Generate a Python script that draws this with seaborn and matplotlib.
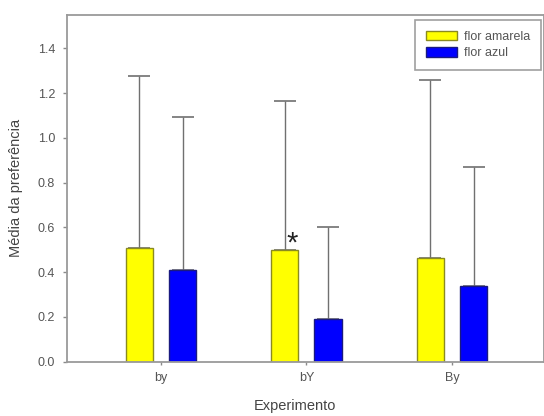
import matplotlib
matplotlib.use("Agg")
import matplotlib.pyplot as plt
import seaborn as sns
import pandas as pd
import numpy as np

categories = ["by", "bY", "By"]
series = ["flor amarela", "flor azul"]
amarela_mean = [0.51, 0.50, 0.465]
azul_mean = [0.41, 0.19, 0.34]
amarela_upper = [1.278, 1.163, 1.26]
azul_upper = [1.092, 0.60, 0.87]
yticks = [0.0, 0.2, 0.4, 0.6, 0.8, 1.0, 1.2, 1.4]

sns.set_theme(style="ticks")
plt.rcParams['font.family'] = ['Liberation Sans', 'DejaVu Sans']

df = pd.DataFrame({
    "Experimento": categories * 2,
    "serie": [series[0]] * 3 + [series[1]] * 3,
    "valor": amarela_mean + azul_mean,
})

fig = plt.figure(figsize=(5.44, 4.16), dpi=100)
ax = fig.add_axes([67/544, 1-361.7/416, 476.5/544, (361.7-15)/416])

palette = {series[0]: "#FFFF00", series[1]: "#0000FF"}
sns.barplot(data=df, x="Experimento", y="valor", hue="serie", order=categories,
            hue_order=series, palette=palette, width=0.592, gap=0.372,
            errorbar=None, ax=ax, saturation=1)

edgecols = {series[0]: "#8a8a20", series[1]: "#1a1a80"}
means = {series[0]: amarela_mean, series[1]: azul_mean}
uppers = {series[0]: amarela_upper, series[1]: azul_upper}
for cont, s in zip(ax.containers, series):
    xs = []
    for p in cont:
        p.set_edgecolor(edgecols[s])
        p.set_linewidth(1.0)
        xs.append(p.get_x() + p.get_width()/2)
    m = np.array(means[s]); u = np.array(uppers[s])
    ax.errorbar(xs, m, yerr=[np.zeros_like(m), u - m], fmt="none",
                ecolor="#707070", elinewidth=1.0, capsize=8, capthick=1.2, zorder=0.5)
    if s == series[0]:
        star_x = cont[1].get_x() + cont[1].get_width()
        star_y = means[s][1]

ax.text(star_x - 0.042, star_y - 0.01, "*", fontsize=21, ha="center", va="baseline",
        color="#222222")

ax.set_xlim(-0.646, 2.629)
ax.set_ylim(0, 1.549)
ax.set_yticks(yticks)
ax.set_yticklabels([f"{v:.1f}" for v in yticks])

for side in ["left", "bottom", "top", "right"]:
    ax.spines[side].set_visible(True)
    ax.spines[side].set_color("#9a9a9a")
    ax.spines[side].set_linewidth(1.3)

ax.tick_params(axis="y", colors="#8a8a8a", labelcolor="#555555", labelsize=9,
               length=3, width=1, pad=5.5)
ax.tick_params(axis="x", colors="#8a8a8a", labelcolor="#555555", labelsize=9,
               length=2.2, width=1, pad=5)

ax.set_xlabel("Experimento", fontsize=10.5, color="#444444")
ax.set_ylabel("Média da preferência", fontsize=10.5, color="#444444")
ax.xaxis.set_label_coords((295 - 67) / 476.5, (361.7 - 399) / 346.7)
ax.yaxis.set_label_coords((23 - 67) / 476.5, 0.5)

leg = ax.legend(loc="upper right", bbox_to_anchor=(0.994, 0.9856), fontsize=9,
                frameon=True, fancybox=False, handlelength=2.48, handleheight=0.8,
                labelspacing=0.35, borderpad=0.85, handletextpad=0.56, borderaxespad=0,
                title=None)
leg.get_frame().set_edgecolor("#888888")
leg.get_frame().set_linewidth(1.2)
for h, s in zip(leg.legend_handles, series):
    h.set_edgecolor(edgecols[s])
    h.set_linewidth(1.0)
for t in leg.get_texts():
    t.set_color("#555555")

fig.savefig("out.png", dpi=100)
